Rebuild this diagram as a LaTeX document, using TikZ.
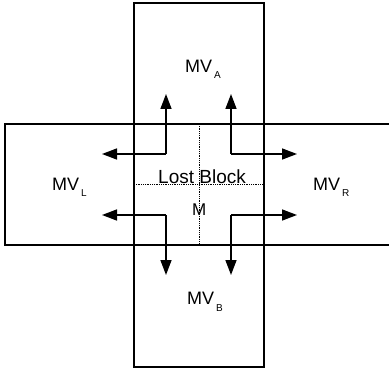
\documentclass[tikz,border=0pt]{standalone}
\usepackage{fontspec}
\setmainfont{Liberation Sans}
\usetikzlibrary{arrows.meta}
\tikzset{
  box/.style={line width=1.2pt},
  guide/.style={densely dotted, line width=0.8pt},
  flow/.style={line width=1.6pt, -{Triangle[length=15pt,width=11pt]}},
  lbl/.style={anchor=base west, inner sep=0pt, font=\fontsize{18}{20}\selectfont},
}
\newcommand{\subl}[1]{\hspace{2pt}\raisebox{-6pt}{\fontsize{10}{10}\selectfont #1}}
\begin{document}
\begin{tikzpicture}[x=1pt,y=-1pt]
\useasboundingbox (0,0) rectangle (389,369);
% vertical block
\draw[box] (134,3) rectangle (264,367);
% horizontal block (runs off the right edge)
\draw[box] (392,124) -- (5,124) -- (5,245) -- (392,245);
% dotted division of the lost block
\coordinate (vt) at (199,124);
\coordinate (vb) at (199,245);
\coordinate (hl) at (134,184);
\coordinate (hr) at (264,184);
\draw[guide] (vt) -- (vb);
\draw[guide] (hl) -- (hr);
% corners of arrows
\coordinate (ul) at (166,154);
\coordinate (ur) at (231,154);
\coordinate (ll) at (166,215);
\coordinate (lr) at (231,215);
\coordinate (ulu) at (166,94);
\coordinate (ull) at (102,154);
\coordinate (uru) at (231,94);
\coordinate (urr) at (297,154);
\coordinate (lll) at (102,215);
\coordinate (lld) at (166,275);
\coordinate (lrr) at (297,215);
\coordinate (lrd) at (231,275);
\draw[flow] (ul) -- (ulu);
\draw[flow] (ul) -- (ull);
\draw[flow] (ur) -- (uru);
\draw[flow] (ur) -- (urr);
\draw[flow] (ll) -- (lll);
\draw[flow] (ll) -- (lld);
\draw[flow] (lr) -- (lrr);
\draw[flow] (lr) -- (lrd);
% labels
\node[lbl] (mva) at (185,73) {MV\subl{A}};
\node[lbl] (mvl) at (52,190) {MV\subl{L}};
\node[lbl] (mvr) at (313,190) {MV\subl{R}};
\node[lbl] (mvb) at (187,305) {MV\subl{B}};
\node[lbl, font=\fontsize{19}{20}\selectfont] (lost) at (158,183) {Lost Block};
\node[lbl, font=\fontsize{17}{18}\selectfont] (m) at (192,215) {M};
\end{tikzpicture}
\end{document}
